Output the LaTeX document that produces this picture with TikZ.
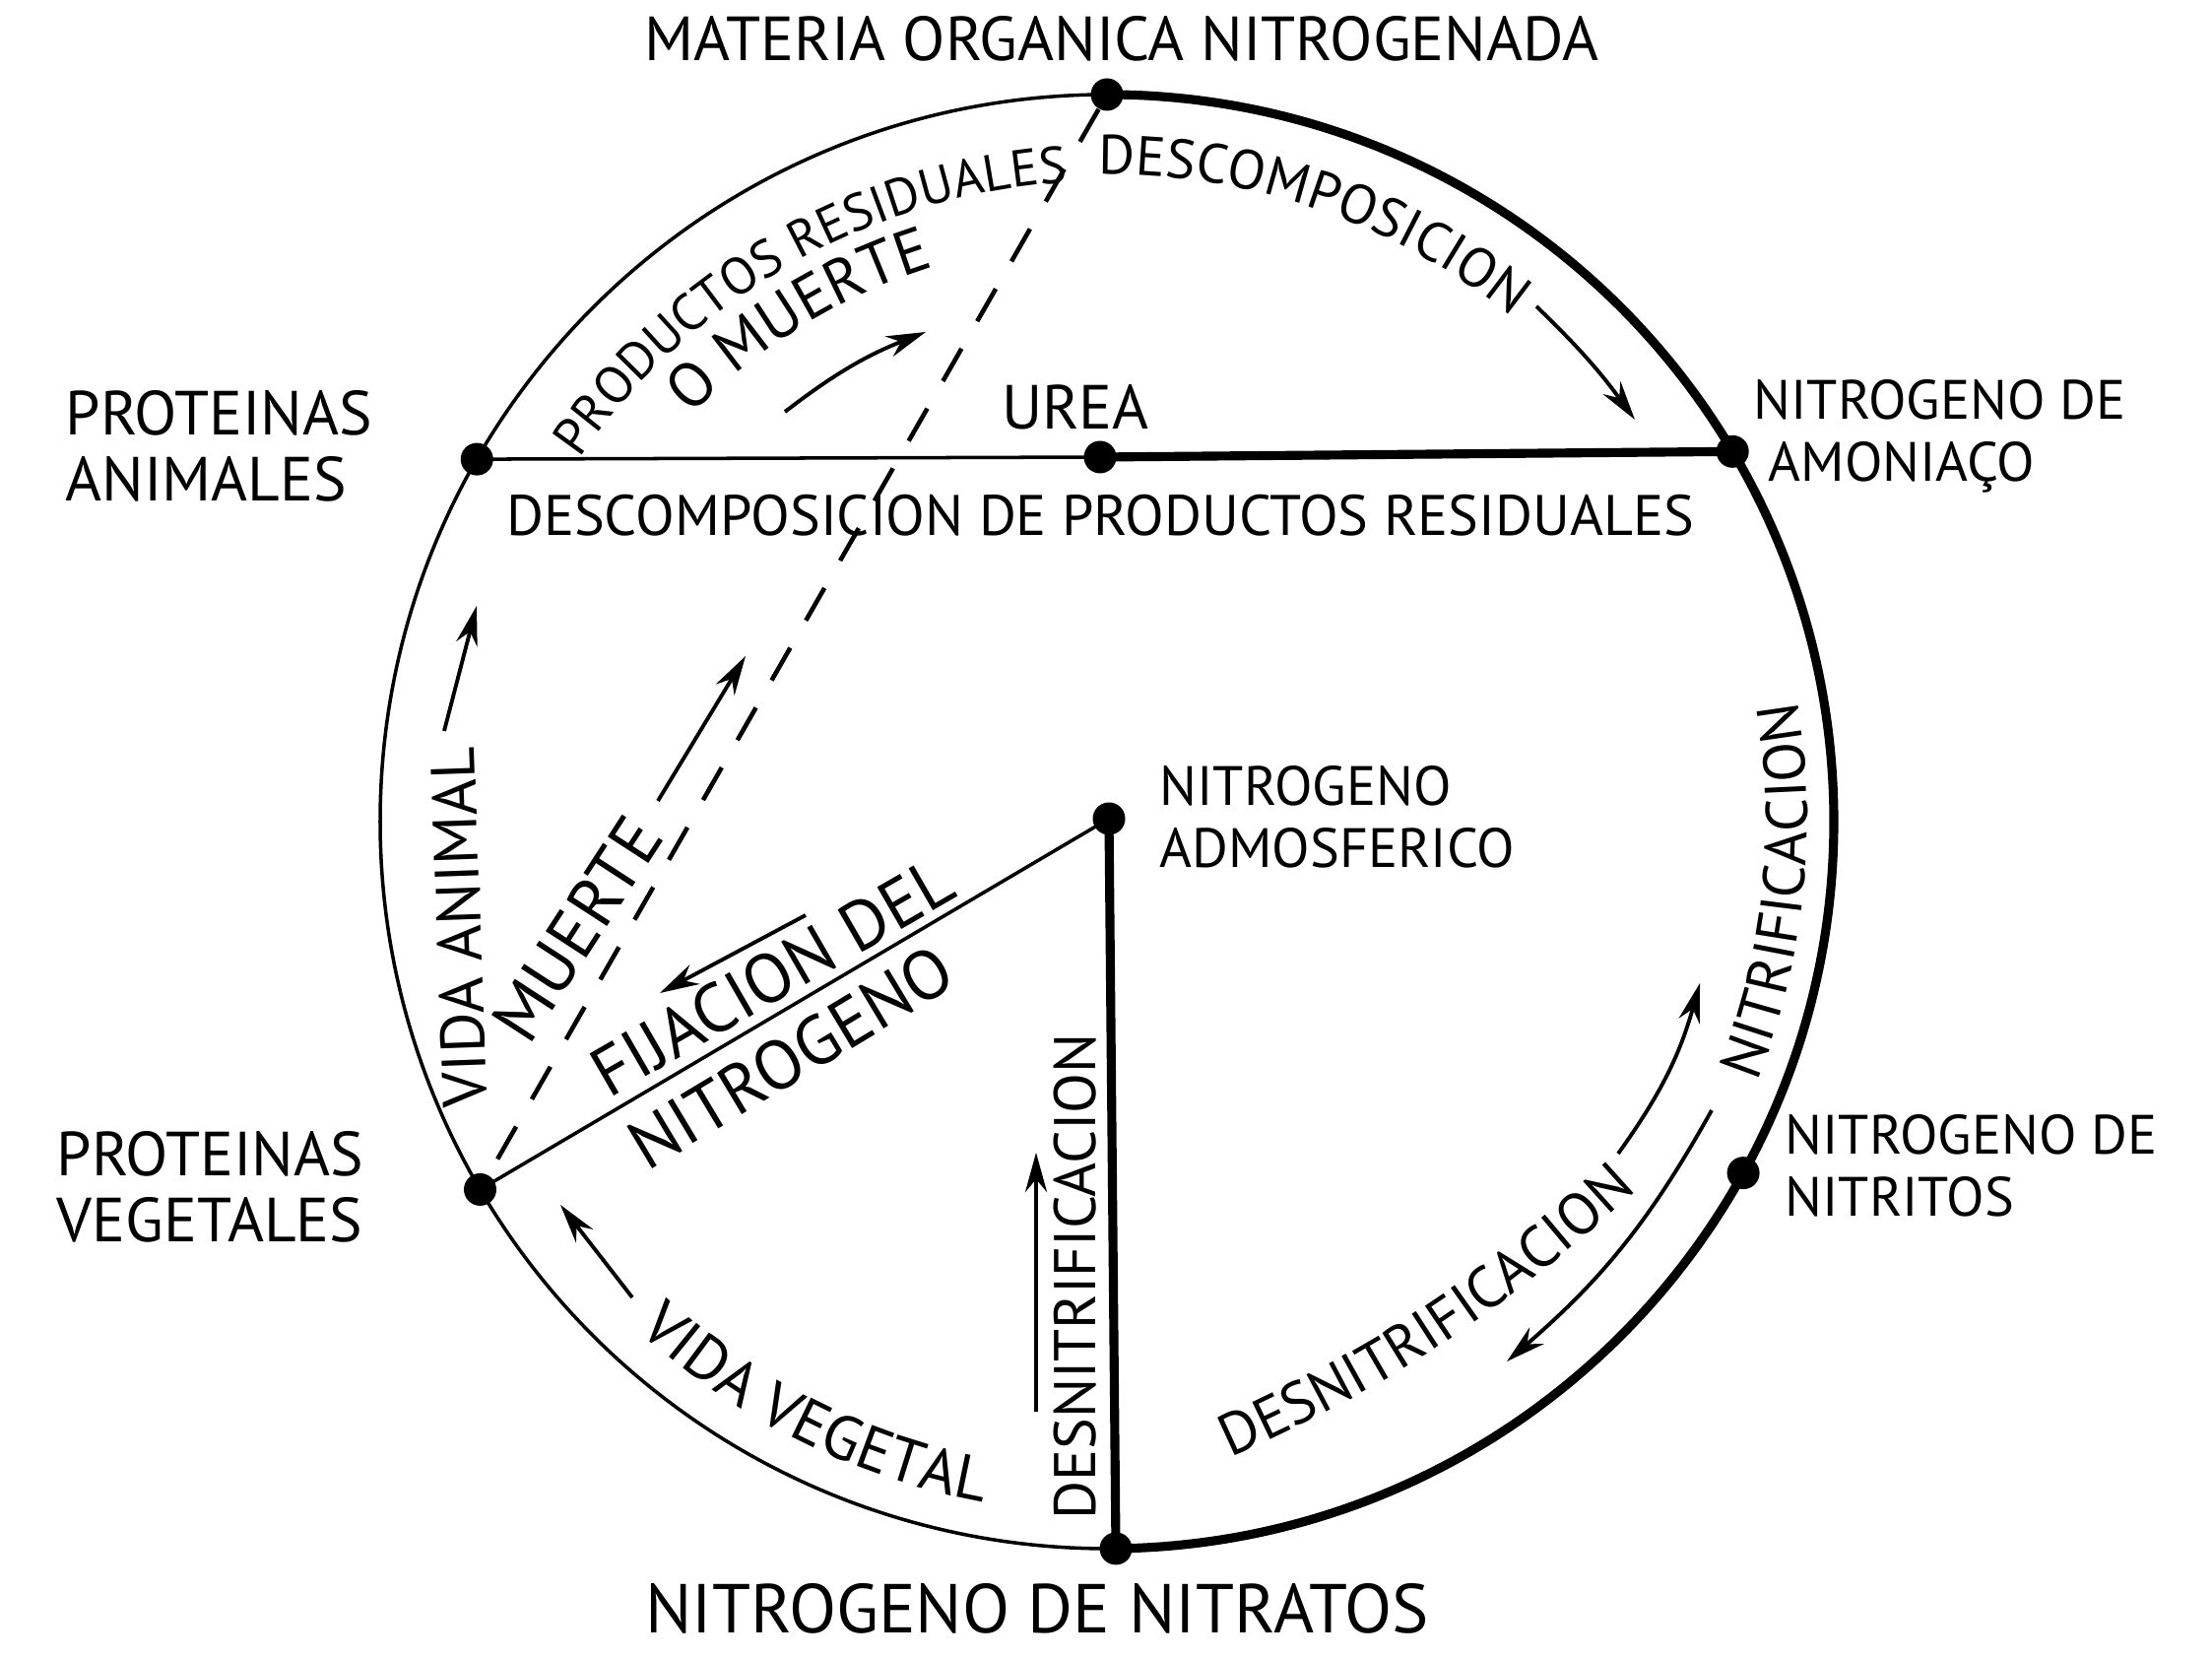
\documentclass[tikz,border=0pt]{standalone}
\usepackage{fontspec}
\setmainfont{PT Sans}
\usetikzlibrary{arrows.meta,calc,decorations.text}

\newcommand\labsize{\fontsize{16}{18}\selectfont}
\newcommand\bigsize{\fontsize{18}{19}\selectfont}
\newcommand\hugesize{\fontsize{20}{22}\selectfont}

\begin{document}
\begin{tikzpicture}[
      dot/.style={circle, fill=black, inner sep=0pt, minimum size=3.3mm},
      thinline/.style={line width=1pt},
      heavyline/.style={line width=2.6pt},
      dashline/.style={line width=1.3pt, dash pattern=on 3.8mm off 3.2mm},
      arrow/.style={-{Stealth[length=4mm,width=2.2mm]}, line width=1.1pt},
      txt/.style={font=\labsize, align=left, inner sep=0pt},
      arctext/.style 2 args={decorate, decoration={text along path, text align=center, text={|#1|#2}}}
    ]
      \useasboundingbox (0,0) rectangle (22.46,16.83);
      \coordinate (C) at (11.24,8.49);

      \node[dot] (mat)   at ($(C)+(90:7.38)$) {};
      \node[dot] (amon)  at ($(C)+(30.6:7.38)$) {};
      \node[dot] (nitri) at ($(C)+(-28.9:7.38)$) {};
      \node[dot] (nitra) at ($(C)+(-89.3:7.38)$) {};
      \node[dot] (pveg)  at ($(C)+(210.4:7.38)$) {};
      \node[dot] (pani)  at ($(C)+(150.1:7.38)$) {};
      \node[dot] (urea)  at (11.17,12.19) {};
      \node[dot] (atmo)  at (11.26,8.52) {};

      \draw[thinline] (mat.center) arc[start angle=90, end angle=270.7, radius=7.38];
      \draw[heavyline] (mat.center) arc[start angle=90, end angle=-89.3, radius=7.38];
      \draw[thinline] (pani.center) -- (urea.center);
      \draw[heavyline] (urea.center) -- (amon.center);
      \draw[thinline] (atmo.center) -- (pveg.center);
      \draw[heavyline] (atmo.center) -- (nitra.center);
      \draw[dashline] (mat) -- (pveg);

      \node[txt, font=\bigsize] (matlab) at (11.39,16.44) {MATERIA ORGANICA NITROGENADA};
      \node[txt, anchor=west] (amonlab) at (17.80,12.40) {NITROGENO DE\\\hspace{1.5mm}AMONIAÇO};
      \node[txt, font=\bigsize, anchor=west] (panilab) at (0.66,12.30) {PROTEINAS\\ANIMALES};
      \node[txt, font=\bigsize, anchor=west] (pveglab) at (0.57,4.78) {PROTEINAS\\VEGETALES};
      \node[txt, anchor=west] (atmolab) at (11.77,8.54) {NITROGENO\\ADMOSFERICO};
      \node[txt, anchor=west] (nitrilab) at (18.12,5.00) {NITROGENO DE\\NITRITOS};
      \node[txt, font=\hugesize] (nitralab) at (10.53,0.50) {NITROGENO DE NITRATOS};
      \node[txt, font=\bigsize] (urealab) at (10.92,12.70) {UREA};
      \node[txt, font=\fontsize{16.5}{18}\selectfont] (desclab) at (11.17,11.60) {DESCOMPOSICION DE PRODUCTOS RESIDUALES};
      \node[txt, font=\bigsize, rotate=92] (vidalab) at (4.66,7.42) {VIDA ANIMAL};
      \node[txt, font=\hugesize, rotate=57] (muertelab) at (5.86,7.40) {MUERTE};
      \node[txt, font=\hugesize, rotate=30] (fijlab) at (7.84,6.92) {FIJACION DEL};
      \node[txt, font=\hugesize, rotate=31] (nitrolab) at (8.03,6.10) {NITROGENO};
      \node[txt, font=\fontsize{17}{19}\selectfont, rotate=90] (desvlab) at (10.92,3.87) {DESNITRIFICACION};

      \path[arctext={\fontsize{15}{17}\selectfont}{PRODUCTOS RESIDUALES}] ($(C)+(160:6.5)$) arc[start angle=160, end angle=79, radius=6.5];
      \path[arctext={\bigsize}{O MUERTE}] ($(C)+(150:5.9)$) arc[start angle=150, end angle=93, radius=5.9];
      \path[arctext={\labsize}{DESCOMPOSICION}] ($(C)+(100:6.57)$) arc[start angle=100, end angle=42, radius=6.57];
      \path[arctext={\bigsize}{VIDA VEGETAL}] ($(C)+(215:7.02)$) arc[start angle=215, end angle=272, radius=7.02];
      \path[arctext={\fontsize{17}{19}\selectfont}{NITRIFICACION}] ($(C)+(-30:7.11)$) arc[start angle=-30, end angle=18, radius=7.11];
      \coordinate (dnA) at (12.08,1.85);
      \coordinate (dnB) at (16.95,5.06);
      \path[arctext={\fontsize{17}{19}\selectfont}{DESNITRIFICACION}] (dnA) to[bend right=10] (dnB);

      \coordinate (prA) at (7.97,12.65);
      \coordinate (prB) at (9.40,13.46);
      \coordinate (dcA) at (15.60,13.72);
      \coordinate (dcB) at (16.60,12.57);
      \coordinate (vaA) at (4.51,9.41);
      \coordinate (vaB) at (4.84,10.68);
      \coordinate (muA) at (6.68,8.70);
      \coordinate (muB) at (7.57,10.17);
      \coordinate (fiA) at (8.18,7.54);
      \coordinate (fiB) at (6.70,6.75);
      \coordinate (dvA) at (10.52,2.50);
      \coordinate (dvB) at (10.52,5.13);
      \coordinate (vvA) at (6.42,3.66);
      \coordinate (vvB) at (5.69,4.60);
      \coordinate (niA) at (16.43,5.12);
      \coordinate (niB) at (17.26,6.85);
      \coordinate (drA) at (17.38,5.56);
      \coordinate (drB) at (15.30,3.01);
      \draw[arrow] (prA) to[bend left=8] (prB);
      \draw[arrow] (dcA) to[bend left=5] (dcB);
      \draw[arrow] (vaA) -- (vaB);
      \draw[arrow] (muA) -- (muB);
      \draw[arrow] (fiA) -- (fiB);
      \draw[arrow] (dvA) -- (dvB);
      \draw[arrow] (vvA) -- (vvB);
      \draw[arrow] (niA) to[bend right=10] (niB);
      \draw[arrow] (drA) to[bend left=10] (drB);
    \end{tikzpicture}
\end{document}
